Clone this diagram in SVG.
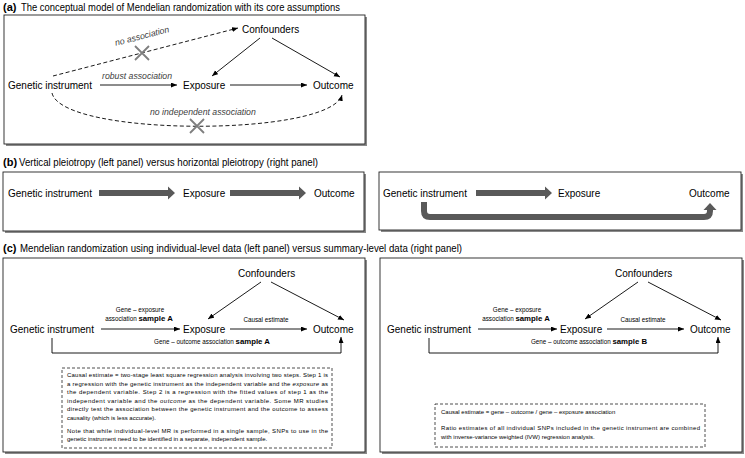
<svg xmlns="http://www.w3.org/2000/svg" width="745" height="458" viewBox="0 0 745 458">
<defs>
<style>
text{font-family:"Liberation Sans",Arial,sans-serif;fill:#000}
.node{font-size:10px}
.title{font-size:11px}
.tb{font-weight:bold}
.lab{font-size:8.7px;font-style:italic;fill:#404040}
.sm{font-size:6.3px}
.bd{font-size:7.8px;font-weight:bold}
.note{font-size:6px}
.panel{fill:#fff;stroke:#222;stroke-width:0.9}
.shadow{fill:#8a8a8a}
.ln{fill:none;stroke:#000;stroke-width:0.9}
.dash{fill:none;stroke:#000;stroke-width:0.9;stroke-dasharray:4 2.5}
.xm{stroke:#7f7f7f;stroke-width:1.8}
.blk{fill:#595959}
.dbox{fill:#fff;stroke:#222;stroke-width:0.8;stroke-dasharray:3 2}
</style>
<marker id="ah" markerUnits="userSpaceOnUse" markerWidth="7" markerHeight="6" refX="6" refY="2.5" orient="auto">
<path d="M0,0 L6,2.5 L0,5 Z" fill="#000"/>
</marker>
</defs>
<rect width="745" height="458" fill="#fff"/>

<!-- titles -->
<g id="titles">
<text class="title tb" x="3" y="10.5">(a)</text>
<text class="title" x="21" y="10.5" textLength="319" lengthAdjust="spacingAndGlyphs">The conceptual model of Mendelian randomization with its core assumptions</text>
<text class="title tb" x="3" y="166" font-size="9.5">(b)</text>
<text class="title" x="19" y="166" font-size="9.5" textLength="299" lengthAdjust="spacingAndGlyphs">Vertical pleiotropy (left panel) versus horizontal pleiotropy (right panel)</text>
<text class="title tb" x="3" y="252" font-size="10.5">(c)</text>
<text class="title" x="20" y="252" font-size="10.5" textLength="442" lengthAdjust="spacingAndGlyphs">Mendelian randomization using individual-level data (left panel) versus summary-level data (right panel)</text>
</g>

<!-- panel frames -->
<g id="frames">
<rect class="shadow" x="6" y="17" width="361" height="129"/>
<rect class="panel" x="4" y="15" width="361" height="129"/>
<rect class="shadow" x="5" y="174" width="361" height="59"/>
<rect class="panel" x="3" y="172" width="361" height="59"/>
<rect class="shadow" x="381" y="174" width="362" height="58"/>
<rect class="panel" x="379" y="172" width="362" height="58"/>
<rect class="shadow" x="5" y="260" width="362" height="194"/>
<rect class="panel" x="3" y="258" width="362" height="194"/>
<rect class="shadow" x="382" y="260" width="362" height="194"/>
<rect class="panel" x="380" y="258" width="362" height="194"/>
</g>

<!-- panel a -->
<g id="connectors-a">
<line class="ln" x1="100" y1="85" x2="177" y2="85" marker-end="url(#ah)"/>
<line class="ln" x1="230" y1="85" x2="307" y2="85" marker-end="url(#ah)"/>
<line class="ln" x1="260" y1="38" x2="212" y2="76" marker-end="url(#ah)"/>
<line class="ln" x1="272" y1="38" x2="340" y2="77" marker-end="url(#ah)"/>
<line class="dash" x1="53" y1="76" x2="238" y2="28" marker-end="url(#ah)"/>
<path class="dash" d="M52,93 C62,137 330,137 342,95" marker-end="url(#ah)"/>
<path class="xm" d="M135,46 L149,60 M149,46 L135,60"/>
<path class="xm" d="M190,119 L204,133 M204,119 L190,133"/>
<text class="lab" x="102" y="79">robust association</text>
<text class="lab" x="142" y="39" text-anchor="middle" transform="rotate(-14.5 142 36)">no association</text>
<text class="lab" x="150" y="115">no independent association</text>
</g>
<g id="a-gi"><text class="node" x="8" y="89">Genetic instrument</text></g>
<g id="a-exposure"><text class="node" x="183" y="89">Exposure</text></g>
<g id="a-outcome"><text class="node" x="313" y="89">Outcome</text></g>
<g id="a-confounders"><text class="node" x="242" y="33">Confounders</text></g>

<!-- panel b -->
<g id="connectors-b">
<polygon class="blk" points="99,190 168,190 168,186.5 175,193 168,199.5 168,196 99,196"/>
<polygon class="blk" points="230,190 299,190 299,186.5 306,193 299,199.5 299,196 230,196"/>
<polygon class="blk" points="476,190 545,190 545,186.5 552,193 545,199.5 545,196 476,196"/>
<path d="M424,202 V211 Q424,217 430,217 H704 Q710,217 710,211 V209" fill="none" stroke="#595959" stroke-width="6"/>
<polygon class="blk" points="703.5,210 710,203 716.5,210"/>
</g>
<g id="b-left-gi"><text class="node" x="8" y="196.5">Genetic instrument</text></g>
<g id="b-left-exposure"><text class="node" x="183" y="196.5">Exposure</text></g>
<g id="b-left-outcome"><text class="node" x="314" y="196.5">Outcome</text></g>
<g id="b-right-gi"><text class="node" x="383" y="196.5">Genetic instrument</text></g>
<g id="b-right-exposure"><text class="node" x="558" y="196.5">Exposure</text></g>
<g id="b-right-outcome"><text class="node" x="689" y="196.5">Outcome</text></g>

<!-- panel c left -->
<g id="connectors-c-left">
<line class="ln" x1="101" y1="329" x2="180" y2="329" marker-end="url(#ah)"/>
<line class="ln" x1="230" y1="329" x2="307" y2="329" marker-end="url(#ah)"/>
<line class="ln" x1="261" y1="282" x2="208" y2="319" marker-end="url(#ah)"/>
<line class="ln" x1="271" y1="282" x2="344" y2="320" marker-end="url(#ah)"/>
<path class="ln" d="M52,338 V353 H341 V337" marker-end="url(#ah)"/>
<text class="sm" x="140" y="312" text-anchor="middle">Gene – exposure</text>
<text class="sm" x="139" y="321" text-anchor="middle">association <tspan class="bd">sample A</tspan></text>
<text class="sm" x="266" y="322" text-anchor="middle">Causal estimate</text>
<text class="sm" x="212" y="344" text-anchor="middle">Gene – outcome association <tspan class="bd">sample A</tspan></text>
</g>
<g id="c-left-gi"><text class="node" x="10" y="333">Genetic instrument</text></g>
<g id="c-left-exposure"><text class="node" x="183" y="333">Exposure</text></g>
<g id="c-left-outcome"><text class="node" x="313" y="333">Outcome</text></g>
<g id="c-left-confounders"><text class="node" x="238" y="277">Confounders</text></g>
<g id="c-left-note">
<rect class="dbox" x="62" y="368" width="270" height="80"/>
<text class="note" x="67" y="377" textLength="261" lengthAdjust="spacing">Causal estimate = two-stage least square regression analysis involving two steps. Step 1 is</text>
<text class="note" x="67" y="385.5" textLength="261" lengthAdjust="spacing">a regression with the genetic instrument as the independent variable and the <tspan font-style="italic">exposure</tspan> as</text>
<text class="note" x="67" y="394" textLength="261" lengthAdjust="spacing">the dependent variable. Step 2 is a regression with the fitted values of step 1 as the</text>
<text class="note" x="67" y="402.5" textLength="261" lengthAdjust="spacing">independent variable and the <tspan font-style="italic">outcome</tspan> as the dependent variable. Some MR studies</text>
<text class="note" x="67" y="411" textLength="261" lengthAdjust="spacing">directly test the association between the genetic instrument and the outcome to assess</text>
<text class="note" x="67" y="419.5">causality (which is less accurate).</text>
<text class="note" x="67" y="432.5" textLength="261" lengthAdjust="spacing">Note that while individual-level MR is performed in a single sample, SNPs to use in the</text>
<text class="note" x="67" y="441">genetic instrument need to be identified in a separate, independent sample.</text>
</g>

<!-- panel c right -->
<g id="connectors-c-right">
<line class="ln" x1="478" y1="329" x2="557" y2="329" marker-end="url(#ah)"/>
<line class="ln" x1="607" y1="329" x2="684" y2="329" marker-end="url(#ah)"/>
<line class="ln" x1="638" y1="282" x2="585" y2="319" marker-end="url(#ah)"/>
<line class="ln" x1="648" y1="282" x2="721" y2="320" marker-end="url(#ah)"/>
<path class="ln" d="M429,338 V353 H718 V337" marker-end="url(#ah)"/>
<text class="sm" x="517" y="312" text-anchor="middle">Gene – exposure</text>
<text class="sm" x="516" y="321" text-anchor="middle">association <tspan class="bd">sample A</tspan></text>
<text class="sm" x="643" y="322" text-anchor="middle">Causal estimate</text>
<text class="sm" x="589" y="344" text-anchor="middle">Gene – outcome association <tspan class="bd">sample B</tspan></text>
</g>
<g id="c-right-gi"><text class="node" x="387" y="333">Genetic instrument</text></g>
<g id="c-right-exposure"><text class="node" x="560" y="333">Exposure</text></g>
<g id="c-right-outcome"><text class="node" x="690" y="333">Outcome</text></g>
<g id="c-right-confounders"><text class="node" x="615" y="277">Confounders</text></g>
<g id="c-right-note">
<rect class="dbox" x="435" y="404" width="270" height="43"/>
<text class="note" x="441" y="414">Causal estimate = gene – outcome / gene – exposure association</text>
<text class="note" x="441" y="430" textLength="259" lengthAdjust="spacing">Ratio estimates of all individual SNPs included in the genetic instrument are combined</text>
<text class="note" x="441" y="438.5">with inverse-variance weighted (IVW) regression analysis.</text>
</g>
</svg>
